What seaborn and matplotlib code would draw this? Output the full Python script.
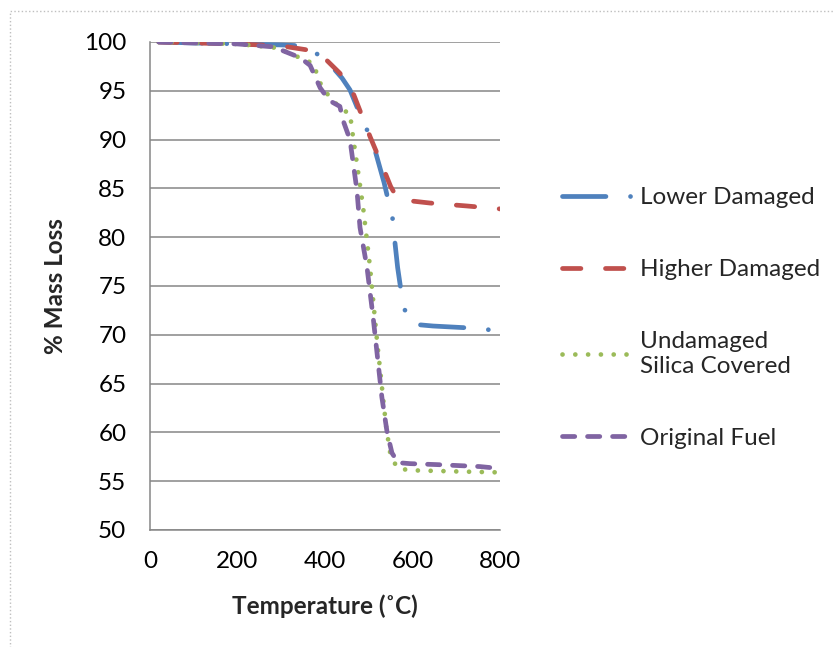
import numpy as np
import seaborn as sns
import matplotlib.pyplot as plt
from matplotlib.patches import Rectangle

# temperatura (C) e % de massa
temp_lower = [20, 100, 200, 300, 350, 400, 439, 457, 480, 510, 535, 555, 560, 566, 579, 597, 647, 731, 779]
massa_lower = [100, 99.9, 99.8, 99.7, 99.6, 98.3, 96.3, 95.1, 92.6, 89.6, 85.6, 81.8, 79.4, 76.9, 72.9, 71.1, 70.9, 70.7, 70.5]

temp_higher = [20, 100, 200, 300, 358, 400, 434, 464, 503, 532, 550, 564, 580, 640, 724, 800]
massa_higher = [100, 99.9, 99.8, 99.6, 99.2, 98.3, 96.8, 94.8, 90.3, 87.2, 85.2, 84.1, 83.8, 83.5, 83.2, 82.9]

temp_silica = [20, 100, 200, 290, 373, 389, 411, 441, 457, 464, 476, 487, 503, 518, 530, 540, 549, 564, 583, 610, 700, 800]
massa_silica = [100, 99.9, 99.8, 99.4, 97.8, 95.8, 94.3, 93.0, 92.7, 90.3, 86.6, 83.1, 76.9, 69.8, 64.7, 60.5, 57.9, 56.4, 56.2, 56.1, 56.0, 55.9]

temp_original = [20, 100, 200, 282, 343, 366, 389, 410, 434, 441, 457, 473, 480, 496, 510, 530, 542, 553, 567, 594, 656, 754, 800]
massa_original = [100, 99.9, 99.8, 99.5, 98.4, 97.6, 95.3, 94.0, 93.4, 92.0, 90.0, 84.8, 81.0, 76.9, 71.8, 63.6, 60.0, 57.9, 56.9, 56.8, 56.7, 56.5, 56.3]

LW = 3.4
series = [
    ("Lower Damaged", temp_lower, massa_lower, "#4F81BD", (9.2, 5.2, 0.01, 5.2)),
    ("Higher Damaged", temp_higher, massa_higher, "#C0504D", (3.9, 5.2)),
    ("Undamaged\nSilica Covered", temp_silica, massa_silica, "#9BBB59", (0.01, 2.7)),
    ("Original Fuel", temp_original, massa_original, "#8064A2", (2.6, 2.7)),
]

sns.set_theme(style="white")
plt.rcParams['font.family'] = ['Lato', 'DejaVu Sans']

fig = plt.figure(figsize=(8.35, 6.47), dpi=100)
ax = fig.add_axes([150 / 835, 1 - 530 / 647, 350 / 835, 488 / 647])

for nome, t, m, cor, padrao in series:
    sns.lineplot(x=t, y=m, ax=ax, color=cor, linewidth=LW, label=nome, sort=False)
    linha = ax.lines[-1]
    linha.set_dashes(padrao)
    linha.set_dash_capstyle('round')

ax.set_xlim(0, 800)
ax.set_ylim(50, 100)
ax.set_xticks(np.arange(0, 801, 200))
ax.set_yticks(np.arange(50, 101, 5))
ax.tick_params(axis='both', labelsize=17.5, length=0, colors='black')
ax.tick_params(axis='y', pad=17)
ax.tick_params(axis='x', pad=15)

ax.yaxis.grid(True, color='#868686', linewidth=1.1)
ax.xaxis.grid(False)
for lado in ['top', 'right']:
    ax.spines[lado].set_visible(False)
for lado in ['left', 'bottom']:
    ax.spines[lado].set_color('#868686')
    ax.spines[lado].set_linewidth(1.1)

ax.set_xlabel('Temperature (\u02daC)', fontsize=17.5, fontweight='bold', labelpad=16)
ax.set_ylabel('% Mass Loss', fontsize=17.5, fontweight='bold', labelpad=12)

ax.get_legend().remove()
fig.legend(handles=ax.lines, labels=[s[0] for s in series], loc='upper left',
           bbox_to_anchor=(562 / 835, 1 - 187 / 647), frameon=False, fontsize=17.5,
           handlelength=2.92, handletextpad=0.3, labelspacing=2.1,
           borderpad=0, borderaxespad=0)

fig.patches.append(Rectangle((10 / 835, -0.1), 1.2, 1 - 11 / 647 + 0.1, transform=fig.transFigure,
                             fill=False, edgecolor='#bfbfbf', linestyle=':', linewidth=1))

fig.savefig('out.png', dpi=100)
